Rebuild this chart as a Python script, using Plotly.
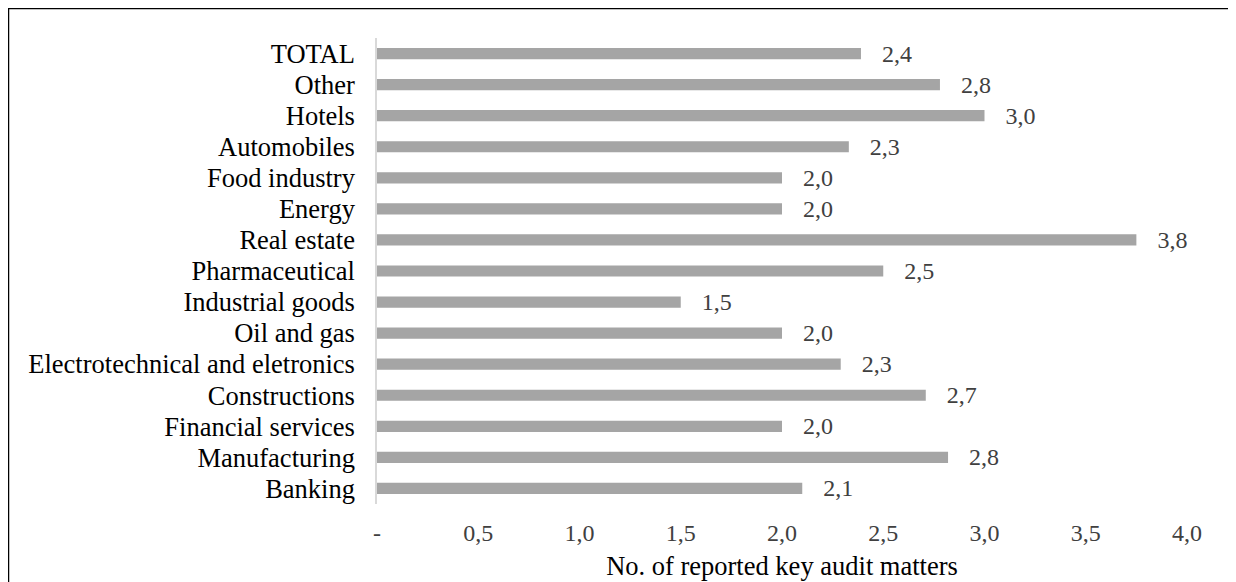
import plotly.graph_objects as go

categories = ["Banking", "Manufacturing", "Financial services", "Constructions",
              "Electrotechnical and eletronics", "Oil and gas", "Industrial goods",
              "Pharmaceutical", "Real estate", "Energy", "Food industry",
              "Automobiles", "Hotels", "Other", "TOTAL"]
values = [2.10, 2.82, 2.00, 2.71, 2.29, 2.00, 1.50, 2.50, 3.75, 2.00, 2.00,
          2.33, 3.00, 2.78, 2.39]
tick_vals = [0, 0.5, 1.0, 1.5, 2.0, 2.5, 3.0, 3.5, 4.0]
tick_text = ["-", "0,5", "1,0", "1,5", "2,0", "2,5", "3,0", "3,5", "4,0"]
x_title = "No. of reported key audit matters"

FONT = "Liberation Serif, Times New Roman, serif"

fig = go.Figure()
fig.add_trace(go.Bar(
    x=values, y=categories, orientation="h",
    marker=dict(color="#A5A5A5", line=dict(width=0)),
    width=0.36,
    texttemplate="\u00a0\u00a0\u00a0%{x:.1f}",
    textposition="outside",
    constraintext="none",
    cliponaxis=False,
    textfont=dict(family=FONT, size=24, color="#404040"),
    hoverinfo="skip",
))

# page body has an 8px margin: figure is drawn at offset (8, 8)
OFF = 8
W, H = 1236 - OFF, 582 - OFF
L, R, T, B = 377 - OFF, 49, 38 - OFF, 78
pw, ph = W - L - R, H - T - B

def px_x(p):
    return (p - OFF - L) / pw

def px_y(p):
    return 1 - (p - OFF - T) / ph

fig.update_layout(
    width=W, height=H, autosize=False,
    margin=dict(l=L, r=R, t=T, b=B, pad=0, autoexpand=False),
    paper_bgcolor="white", plot_bgcolor="white",
    separators=",.",
    showlegend=False,
    font=dict(family=FONT, color="#000000"),
    xaxis=dict(
        range=[0, 4.0], tickmode="array", tickvals=tick_vals, ticktext=tick_text,
        showgrid=False, zeroline=False, showline=False,
        ticks="outside", ticklen=7, tickcolor="rgba(0,0,0,0)",
        tickfont=dict(family=FONT, size=24, color="#404040"),
        title=dict(text=x_title, font=dict(family=FONT, size=26.5, color="#000000"),
                   standoff=11),
        automargin=False,
        fixedrange=True,
    ),
    yaxis=dict(
        type="category",
        categoryorder="array", categoryarray=categories,
        tickmode="array", tickvals=categories, ticktext=categories,
        showgrid=False, zeroline=False,
        showline=True, linecolor="#D9D9D9", linewidth=1.5,
        ticks="outside", ticklen=15, tickcolor="rgba(0,0,0,0)",
        tickfont=dict(family=FONT, size=26.5, color="#000000"),
        automargin=False,
        fixedrange=True,
    ),
    shapes=[dict(
        type="rect", xref="paper", yref="paper",
        x0=px_x(8.5), x1=px_x(1229), y0=px_y(600), y1=px_y(8.5),
        line=dict(color="#000000", width=1.5), fillcolor="rgba(0,0,0,0)",
        layer="above",
    )],
)

fig.write_html("out.html")
